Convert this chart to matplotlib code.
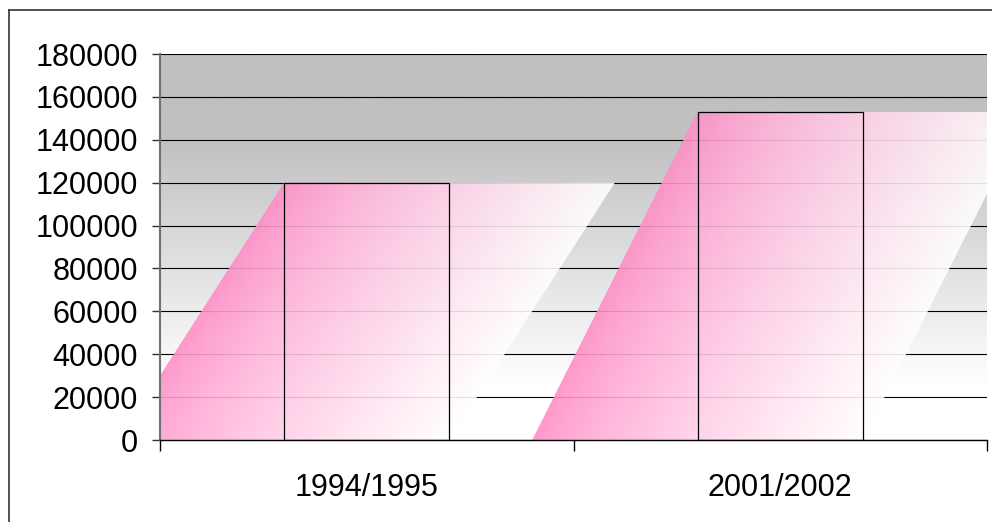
import numpy as np
import matplotlib
matplotlib.use("Agg")
import matplotlib.pyplot as plt
from matplotlib.patches import Polygon, Rectangle
from matplotlib.lines import Line2D
from matplotlib.ticker import FixedLocator, NullFormatter

plt.rcParams['font.family'] = ['Liberation Sans', 'DejaVu Sans']

# data
categories = ["1994/1995", "2001/2002"]
values = [120000, 153000]
y_ticks = list(range(0, 180001, 20000))

BAR_W = 0.4
PINK = np.array([255, 140, 198]) / 255.0
WHITE = np.array([1.0, 1.0, 1.0])

fig = plt.figure(figsize=(9.92, 5.22), dpi=100)
ax = fig.add_axes([160 / 992, 82 / 522, 827 / 992, 386 / 522])

ymax = 180000
ax.set_xlim(-0.5, len(categories) - 0.5)
ax.set_ylim(0, ymax)

# =========================================================
# PLOT AREA BACKGROUND (grey at top fading to white)
# =========================================================
yy = np.linspace(0, ymax, 400)
g = np.clip((yy - 25000) / (142000 - 25000), 0, 1)
shade = 1.0 - g * (1.0 - 192 / 255.0)
bg = np.repeat(shade[:, None], 2, axis=1)
bg = np.dstack([bg, bg, bg])
ax.imshow(bg, extent=[-0.5, len(categories) - 0.5, 0, ymax], origin="lower",
          aspect="auto", zorder=0, interpolation="bilinear")

# gridlines
ax.set_yticks(y_ticks)
ax.yaxis.grid(True, color="black", linewidth=0.8)
ax.set_axisbelow(True)

# =========================================================
# BARS WITH SHEARED GRADIENT FILL
# =========================================================
for i, v in enumerate(values):
    left = i - BAR_W / 2
    # parallelogram the gradient was stretched over
    poly = Polygon([(left - BAR_W, 0), (left + BAR_W, 0),
                    (left + 2 * BAR_W, v), (left, v)], closed=True,
                   facecolor="none", edgecolor="none", transform=ax.transData)
    ax.add_patch(poly)

    x0, x1 = left - BAR_W, left + 2 * BAR_W
    xs = np.linspace(x0, x1, 500)
    ys = np.linspace(0, v, 400)
    X, Y = np.meshgrid(xs, ys)
    xleft = left - BAR_W + BAR_W * (Y / v)
    t = np.clip((X - xleft) / (2 * BAR_W), 0, 1) ** 0.75
    rgb = PINK[None, None, :] * (1 - t[..., None]) + WHITE[None, None, :] * t[..., None]
    img = ax.imshow(rgb, extent=[x0, x1, 0, v], origin="lower", aspect="auto",
                    zorder=2, alpha=0.9, interpolation="bilinear")
    img.set_clip_path(poly)

    ax.add_patch(Rectangle((left, 0), BAR_W, v, facecolor="none",
                           edgecolor="black", linewidth=0.9, zorder=3))

ax.set_xlim(-0.5, len(categories) - 0.5)
ax.set_ylim(0, ymax)

# =========================================================
# AXES STYLING
# =========================================================
for s in ["top", "right"]:
    ax.spines[s].set_visible(False)
ax.spines["left"].set_color("#707070")
ax.spines["left"].set_linewidth(1.5)
ax.spines["bottom"].set_color("black")
ax.spines["bottom"].set_linewidth(1.0)
ax.spines["left"].set_zorder(4)
ax.spines["bottom"].set_zorder(4)

ax.tick_params(axis="y", length=6, width=1, color="#333333", pad=10, labelsize=22)
ax.set_yticklabels([str(t) for t in y_ticks])

ax.xaxis.set_major_locator(FixedLocator([-0.5, 0.5, 1.5]))
ax.xaxis.set_major_formatter(NullFormatter())
ax.xaxis.set_minor_locator(FixedLocator(range(len(categories))))
ax.set_xticklabels(categories, minor=True)
ax.tick_params(axis="x", which="major", length=8, width=1, color="black")
ax.tick_params(axis="x", which="minor", length=0, pad=24, labelsize=22)

# outer chart border (left and top edges visible)
fig.add_artist(Line2D([9 / 992, 9 / 992], [0, 1 - 10 / 522], color="#333333", linewidth=1.2))
fig.add_artist(Line2D([9 / 992, 1], [1 - 10 / 522, 1 - 10 / 522], color="#333333", linewidth=1.2))

fig.savefig("out.png", dpi=100)
